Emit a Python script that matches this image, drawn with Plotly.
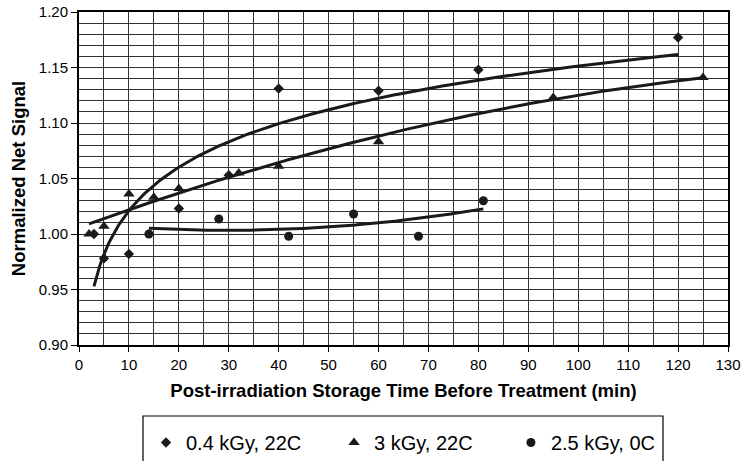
import numpy as np
import plotly.graph_objects as go

# ---- data ----
t_04 = [3, 5, 10, 20, 30, 40, 60, 80, 120]
s_04 = [1.000, 0.978, 0.982, 1.023, 1.053, 1.131, 1.129, 1.148, 1.177]

t_3 = [2, 5, 10, 15, 20, 32, 40, 60, 95, 125]
s_3 = [1.000, 1.007, 1.036, 1.033, 1.041, 1.055, 1.061, 1.083, 1.123, 1.141]

t_25 = [14, 28, 42, 55, 68, 81]
s_25 = [1.000, 1.0135, 0.998, 1.018, 0.998, 1.030]

names = ["0.4 kGy, 22C", "3 kGy, 22C", "2.5 kGy, 0C"]

x_ticks = list(range(0, 131, 10))
y_ticks = [0.90, 0.95, 1.00, 1.05, 1.10, 1.15, 1.20]

INK = "#1a1a1a"
FONT = "Liberation Sans, Arial, sans-serif"
NB = "\u00a0"

fig = go.Figure()

# trendlines (least-squares fits of the data, like spreadsheet trendlines)
# 0.4 kGy: logarithmic
b, a = np.polyfit(np.log(t_04), s_04, 1)
xx = np.linspace(min(t_04), max(t_04), 300)
fig.add_trace(go.Scatter(x=xx, y=a + b * np.log(xx), mode="lines",
                         line=dict(color=INK, width=3), showlegend=False, hoverinfo="skip"))
# 3 kGy: 2nd order polynomial
c = np.polyfit(t_3, s_3, 2)
xx = np.linspace(min(t_3), max(t_3), 300)
fig.add_trace(go.Scatter(x=xx, y=np.polyval(c, xx), mode="lines",
                         line=dict(color=INK, width=3), showlegend=False, hoverinfo="skip"))
# 2.5 kGy: 2nd order polynomial
c = np.polyfit(t_25, s_25, 2)
xx = np.linspace(min(t_25), max(t_25), 300)
fig.add_trace(go.Scatter(x=xx, y=np.polyval(c, xx), mode="lines",
                         line=dict(color=INK, width=3), showlegend=False, hoverinfo="skip"))

# markers
fig.add_trace(go.Scatter(x=t_04, y=s_04, mode="markers", name=names[0] + NB * 5,
                         marker=dict(symbol="diamond", size=8, color=INK)))
fig.add_trace(go.Scatter(x=t_3, y=s_3, mode="markers", name=names[1] + NB * 6,
                         marker=dict(symbol="triangle-up", size=10, color=INK)))
fig.add_trace(go.Scatter(x=t_25, y=s_25, mode="markers", name=names[2],
                         marker=dict(symbol="circle", size=9, color=INK)))

# plot area: 79..728 px horizontally, 12..345 px vertically
PW, PH = 649.0, 333.0
def px_x(p):
    return (p - 79) / PW
def px_y(p):
    return (345 - p) / PH

grid = "#333333"
fig.update_layout(
    width=745, height=461,
    margin=dict(l=79, r=17, t=12, b=116, autoexpand=False),
    paper_bgcolor="white", plot_bgcolor="white",
    font=dict(family=FONT, color="black", size=15),
    showlegend=True,
    legend=dict(orientation="h", x=px_x(403.5), xanchor="center", y=px_y(423), yanchor="top",
                borderwidth=0, bgcolor="rgba(0,0,0,0)",
                font=dict(size=20, family=FONT, color="black")),
    shapes=[dict(type="rect", xref="paper", yref="paper",
                 x0=px_x(143), x1=px_x(663), y0=px_y(416), y1=px_y(475),
                 line=dict(color="black", width=1.2), fillcolor="rgba(0,0,0,0)", layer="below")],
    xaxis=dict(range=[0, 130], tickvals=x_ticks, ticktext=[str(v) for v in x_ticks],
               showgrid=True, gridcolor=grid, gridwidth=1,
               minor=dict(dtick=5, showgrid=True, gridcolor=grid, gridwidth=1),
               showline=True, linecolor="black", linewidth=2, mirror=True,
               ticks="outside", ticklen=5, tickcolor="black",
               tickfont=dict(size=15), zeroline=False,
               title=dict(text="<b>Post-irradiation Storage Time Before Treatment (min)</b>",
                          font=dict(size=18.5), standoff=12)),
    yaxis=dict(range=[0.90, 1.20], tickvals=y_ticks, ticktext=[f"{v:.2f}" for v in y_ticks],
               showgrid=True, gridcolor=grid, gridwidth=1,
               minor=dict(dtick=0.01, tick0=0.9, showgrid=True, gridcolor=grid, gridwidth=1),
               showline=True, linecolor="black", linewidth=2, mirror=True,
               ticks="outside", ticklen=6, tickcolor="black",
               tickfont=dict(size=15), zeroline=False,
               title=dict(text="<b>Normalized Net Signal</b>", font=dict(size=18.5), standoff=8)),
)

fig.write_html("out.html")
